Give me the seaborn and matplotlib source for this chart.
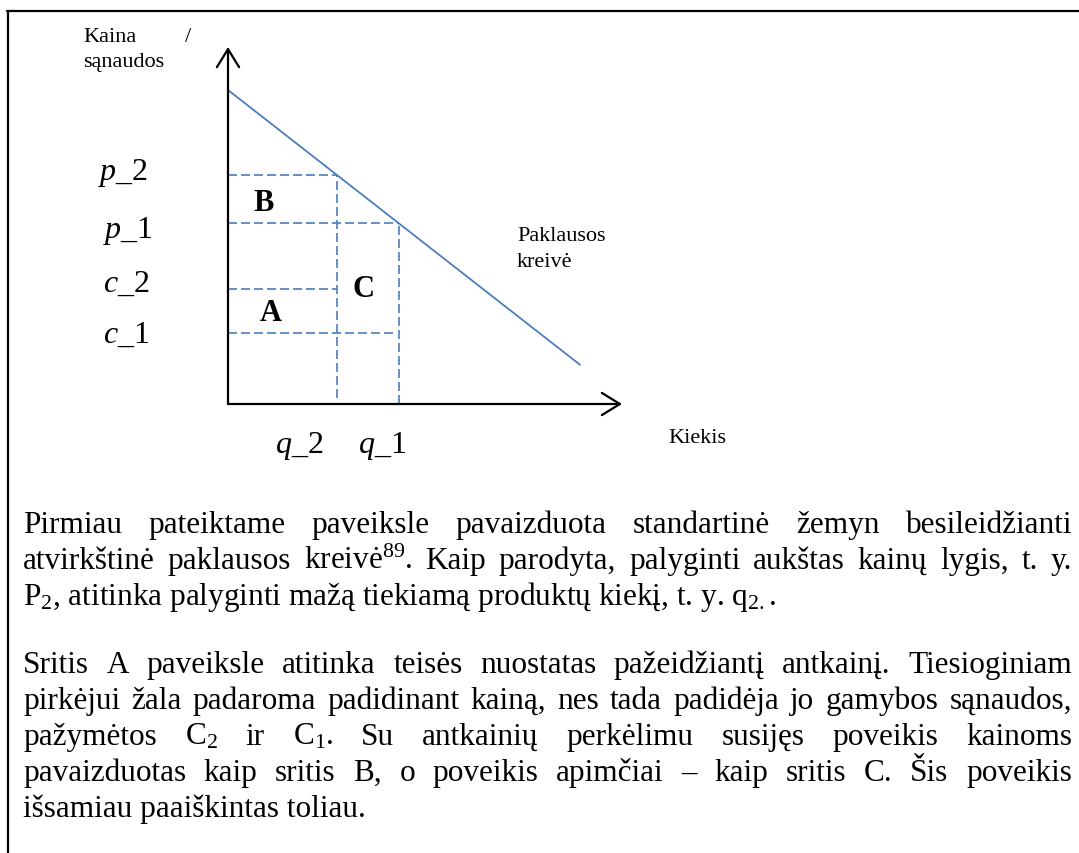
import matplotlib
matplotlib.use('Agg')
import matplotlib.pyplot as plt
import seaborn as sns
from matplotlib.lines import Line2D

# ---------------- data ----------------
demand_q = [0.0, 10.0]          # demand curve, quantity
demand_p = [10.0, 1.25]         # demand curve, price
q_levels = [3.1, 4.86]          # q_2, q_1
p_levels = [7.3, 5.75]          # p_2, p_1
c_levels = [3.65, 2.25]         # c_2, c_1
q_labels = [r'$\mathit{q}$_2', r'$\mathit{q}$_1']
pc_labels = [r'$\mathit{p}$_2', r'$\mathit{p}$_1', r'$\mathit{c}$_2', r'$\mathit{c}$_1']
area_labels = ['B', 'C', 'A']
y_title = ['Kaina', '/', 'sąnaudos']
x_title = 'Kiekis'
curve_label = ['Paklausos', 'kreivė']

para1 = [
    "Pirmiau pateiktame paveiksle pavaizduota standartinė žemyn besileidžianti",
    "atvirkštinė paklausos kreivė$^{89}$. Kaip parodyta, palyginti aukštas kainų lygis, t. y.",
    "P$_2$, atitinka palyginti mažą tiekiamą produktų kiekį, t. y. q$_{2.}$.",
]
para2 = [
    "Sritis A paveiksle atitinka teisės nuostatas pažeidžiantį antkainį. Tiesioginiam",
    "pirkėjui žala padaroma padidinant kainą, nes tada padidėja jo gamybos sąnaudos,",
    "pažymėtos C$_2$ ir C$_1$. Su antkainių perkėlimu susijęs poveikis kainoms",
    "pavaizduotas kaip sritis B, o poveikis apimčiai – kaip sritis C. Šis poveikis",
    "išsamiau paaiškintas toliau.",
]

# ---------------- style ----------------
W, H = 1079, 854
BLUE = '#4A7EBB'
sns.set_theme(style='white')
plt.rcParams['font.family'] = ['Liberation Serif', 'DejaVu Serif']
plt.rcParams['mathtext.fontset'] = 'custom'
plt.rcParams['mathtext.rm'] = 'Liberation Serif'
plt.rcParams['mathtext.it'] = 'Liberation Serif:italic'
plt.rcParams['mathtext.bf'] = 'Liberation Serif:bold'
plt.rcParams['mathtext.default'] = 'rm'

fig = plt.figure(figsize=(W / 100, H / 100), dpi=100)
fig.patch.set_facecolor('white')


def fx(x):
    return x / W


def fy(y):
    return 1 - y / H


# ---------------- chart axes ----------------
X0, Y0 = 228, 405
ax = fig.add_axes([fx(X0), fy(Y0), 394 / W, 357 / H])
ax.set_xlim(0, 394 / 35.2)
ax.set_ylim(0, 357 / 31.4)
ax.axis('off')

sns.lineplot(x=demand_q, y=demand_p, ax=ax, color=BLUE, linewidth=1.3)

q2, q1 = q_levels
p2, p1 = p_levels
c2, c1 = c_levels
dash = dict(color=BLUE, linewidth=1.2, linestyle=(0, (5.4, 2.4)))
ax.plot([0, q2], [p2, p2], **dash)
ax.plot([0, q2], [c2, c2], **dash)
ax.plot([0, q1], [p1, p1], **dash)
ax.plot([0, q1 * 0.975], [c1, c1], **dash)
ax.plot([q2, q2], [0.2, p2], **dash)
ax.plot([q1, q1], [0, p1], **dash)

xmax = ax.get_xlim()[1]
ymax = ax.get_ylim()[1]
arrow = dict(arrowstyle='->,head_length=0.65,head_width=0.4', color='black',
             lw=1.6, shrinkA=0, shrinkB=0, mutation_scale=20)
ax.annotate('', xy=(xmax, 0), xytext=(0, 0), arrowprops=arrow, annotation_clip=False)
ax.annotate('', xy=(0, ymax), xytext=(0, 0), arrowprops=arrow, annotation_clip=False)

# ---------------- chart labels ----------------
def ftext(x, y, s, **kw):
    return fig.text(fx(x), fy(y), s, va='baseline', ha='left', color='black', **kw)


SMALL = 16
ftext(83, 42, y_title[0], fontsize=SMALL)
ftext(185, 42, y_title[1], fontsize=SMALL)
ftext(83, 67, y_title[2], fontsize=SMALL)
ftext(668, 443, x_title, fontsize=SMALL)
ftext(517, 241, curve_label[0], fontsize=SMALL)
ftext(517, 267, curve_label[1], fontsize=SMALL)

for lab, (lx, ly) in zip(pc_labels, [(98, 180), (103, 238), (103, 292), (103, 343)]):
    ftext(lx, ly, lab, fontsize=23)
for lab, (lx, ly) in zip(q_labels, [(275, 453), (358, 453)]):
    ftext(lx, ly, lab, fontsize=23)
for lab, (lx, ly) in zip(area_labels, [(253, 211), (353, 297), (260, 321)]):
    ftext(lx, ly, lab, fontsize=22, fontweight='bold')

# ---------------- body text ----------------
renderer = fig.canvas.get_renderer()
BODY = 22.5
LEFT, RIGHT = 23, 1072


def draw_line(text, y, justify):
    if not justify:
        ftext(LEFT, y, text, fontsize=BODY)
        return
    words = text.split(' ')
    objs = [ftext(0, y, w, fontsize=BODY) for w in words]
    widths = [o.get_window_extent(renderer).width for o in objs]
    gap = (RIGHT - LEFT - sum(widths)) / (len(words) - 1)
    x = LEFT
    for o, w in zip(objs, widths):
        o.set_x(fx(x))
        x += w + gap


for i, (line, y) in enumerate(zip(para1, [533, 569, 605])):
    draw_line(line, y, i < len(para1) - 1)
for i, (line, y) in enumerate(zip(para2, [673, 709, 745, 781, 817])):
    draw_line(line, y, i < len(para2) - 1)

# ---------------- frame ----------------
fig.add_artist(Line2D([fx(7), 1], [fy(12), fy(12)], color='black', lw=1.6))
fig.add_artist(Line2D([fx(8), fx(8)], [fy(12), 0], color='black', lw=1.6))

fig.savefig('out.png', dpi=100)
